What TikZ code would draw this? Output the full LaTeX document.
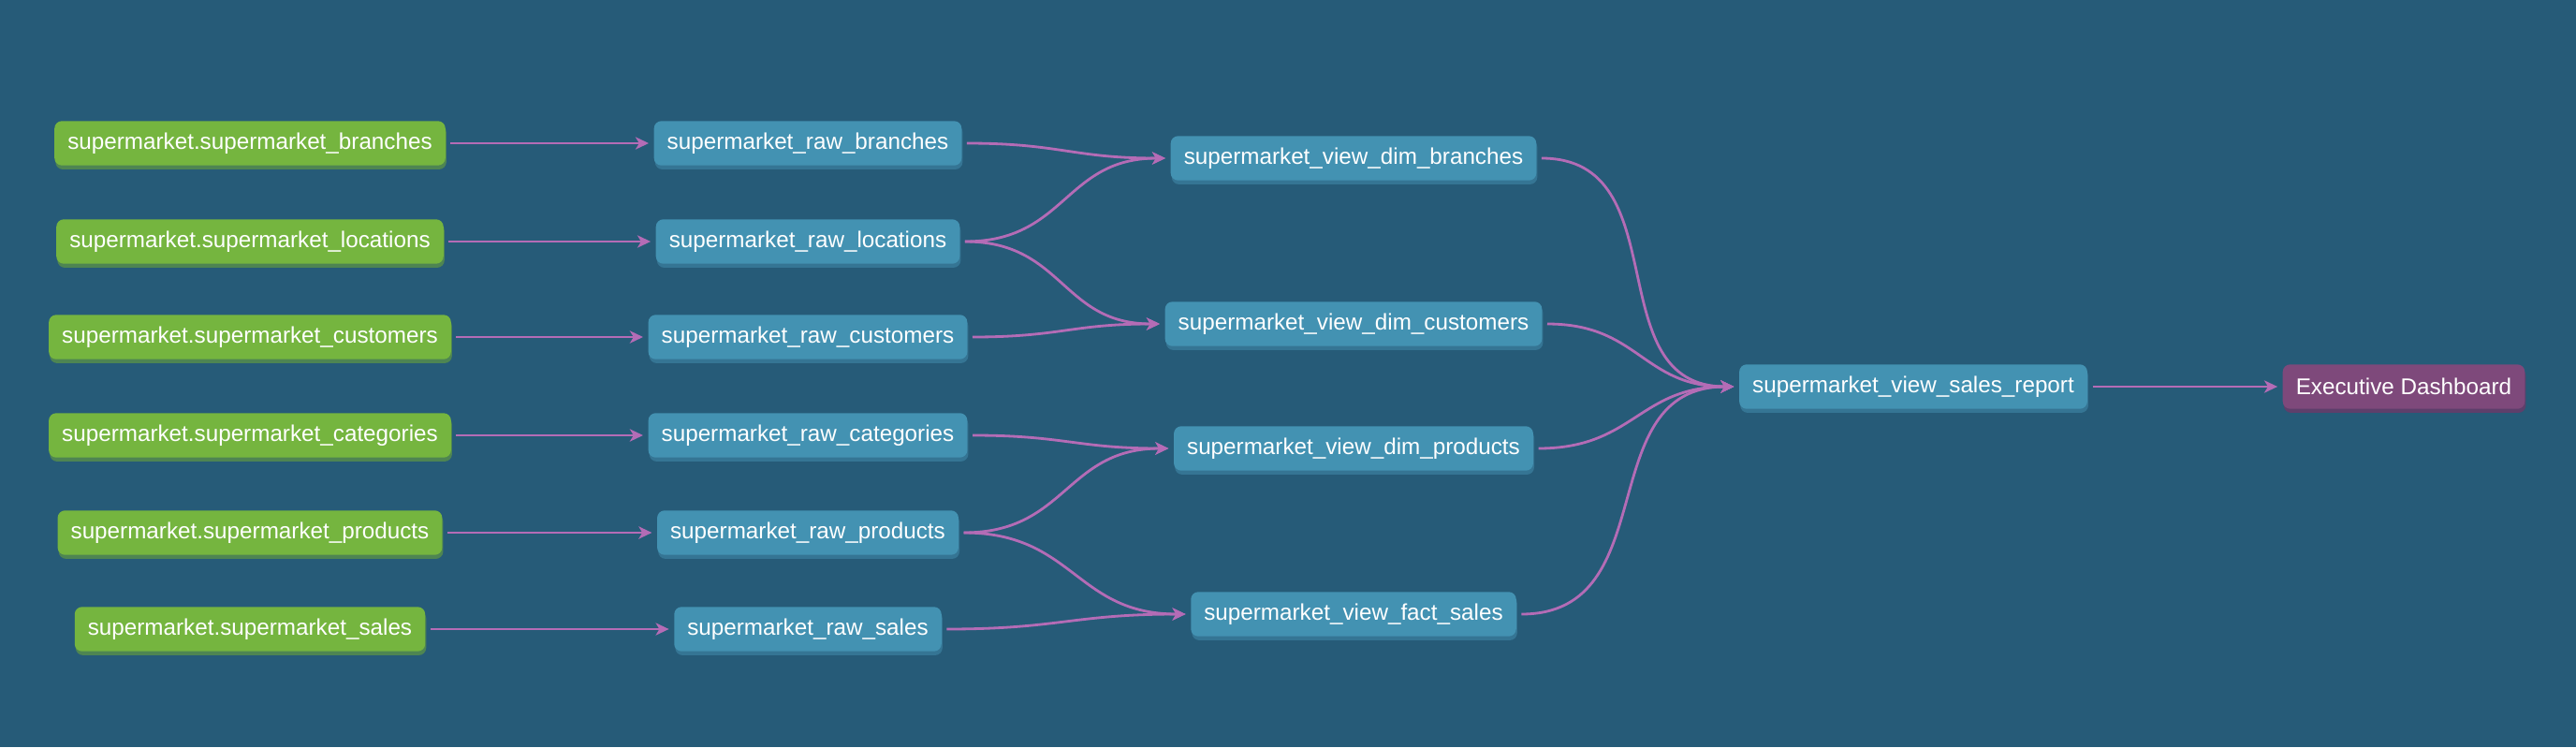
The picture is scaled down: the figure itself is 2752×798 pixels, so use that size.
\documentclass[tikz,border=0pt]{standalone}
\usepackage{fontspec}
\setmainfont{Liberation Sans}
\usetikzlibrary{arrows.meta, shadows}
\definecolor{fond}{HTML}{265B78}
\definecolor{srcgreen}{HTML}{75B53F}
\definecolor{srcshadow}{HTML}{4E8552}
\definecolor{modelblue}{HTML}{4392B2}
\definecolor{modelshadow}{HTML}{357594}
\definecolor{expopurple}{HTML}{7E497B}
\definecolor{exposhadow}{HTML}{5E3F6B}
\definecolor{flowpink}{HTML}{B46CB6}

\begin{document}
\begin{tikzpicture}[x=0.02cm, y=0.02cm,
    box/.style={rounded corners=4.5pt, text=white, font=\fontsize{13.8}{16}\selectfont,
      inner xsep=8pt, inner ysep=0pt, minimum height=27pt},
    source/.style={box, fill=srcgreen, general shadow={fill=srcshadow, shadow yshift=-2.4pt, shadow xshift=0.6pt}},
    model/.style={box, fill=modelblue, general shadow={fill=modelshadow, shadow yshift=-2.4pt, shadow xshift=0.6pt}},
    expo/.style={box, fill=expopurple, general shadow={fill=exposhadow, shadow yshift=-2.4pt, shadow xshift=0.6pt}},
    flow/.style={draw=flowpink, line width=1.6pt, -{Stealth[length=8pt, width=7.5pt, inset=2.2pt]},
      shorten <=3pt, shorten >=3pt, out=0, in=180, looseness=1.2}]
    % fond
    \fill[fond] (0,0) rectangle (2752,-798);
    % sources
    \node[source] (srcbranches) at (267,-153) {supermarket.supermarket\_branches};
    \node[source] (srclocations) at (267,-258) {supermarket.supermarket\_locations};
    \node[source] (srccustomers) at (267,-360) {supermarket.supermarket\_customers};
    \node[source] (srccategories) at (267,-465) {supermarket.supermarket\_categories};
    \node[source] (srcproducts) at (267,-569) {supermarket.supermarket\_products};
    \node[source] (srcsales) at (267,-672) {supermarket.supermarket\_sales};
    % raw
    \node[model] (rawbranches) at (863,-153) {supermarket\_raw\_branches};
    \node[model] (rawlocations) at (863,-258) {supermarket\_raw\_locations};
    \node[model] (rawcustomers) at (863,-360) {supermarket\_raw\_customers};
    \node[model] (rawcategories) at (863,-465) {supermarket\_raw\_categories};
    \node[model] (rawproducts) at (863,-569) {supermarket\_raw\_products};
    \node[model] (rawsales) at (863,-672) {supermarket\_raw\_sales};
    % vues
    \node[model] (dimbranches) at (1446,-169) {supermarket\_view\_dim\_branches};
    \node[model] (dimcustomers) at (1446,-346) {supermarket\_view\_dim\_customers};
    \node[model] (dimproducts) at (1446,-479) {supermarket\_view\_dim\_products};
    \node[model] (factsales) at (1446,-656) {supermarket\_view\_fact\_sales};
    \node[model] (salesreport) at (2044,-413) {supermarket\_view\_sales\_report};
    \node[expo] (dashboard) at (2568,-413) {Executive Dashboard};
    % liens
    \draw[flow] (srcbranches.east) to (rawbranches.west);
    \draw[flow] (srclocations.east) to (rawlocations.west);
    \draw[flow] (srccustomers.east) to (rawcustomers.west);
    \draw[flow] (srccategories.east) to (rawcategories.west);
    \draw[flow] (srcproducts.east) to (rawproducts.west);
    \draw[flow] (srcsales.east) to (rawsales.west);
    \draw[flow] (rawbranches.east) to (dimbranches.west);
    \draw[flow] (rawlocations.east) to (dimbranches.west);
    \draw[flow] (rawlocations.east) to (dimcustomers.west);
    \draw[flow] (rawcustomers.east) to (dimcustomers.west);
    \draw[flow] (rawcategories.east) to (dimproducts.west);
    \draw[flow] (rawproducts.east) to (dimproducts.west);
    \draw[flow] (rawproducts.east) to (factsales.west);
    \draw[flow] (rawsales.east) to (factsales.west);
    \draw[flow] (dimbranches.east) to (salesreport.west);
    \draw[flow] (dimcustomers.east) to (salesreport.west);
    \draw[flow] (dimproducts.east) to (salesreport.west);
    \draw[flow] (factsales.east) to (salesreport.west);
    \draw[flow] (salesreport.east) to (dashboard.west);
\end{tikzpicture}
\end{document}
